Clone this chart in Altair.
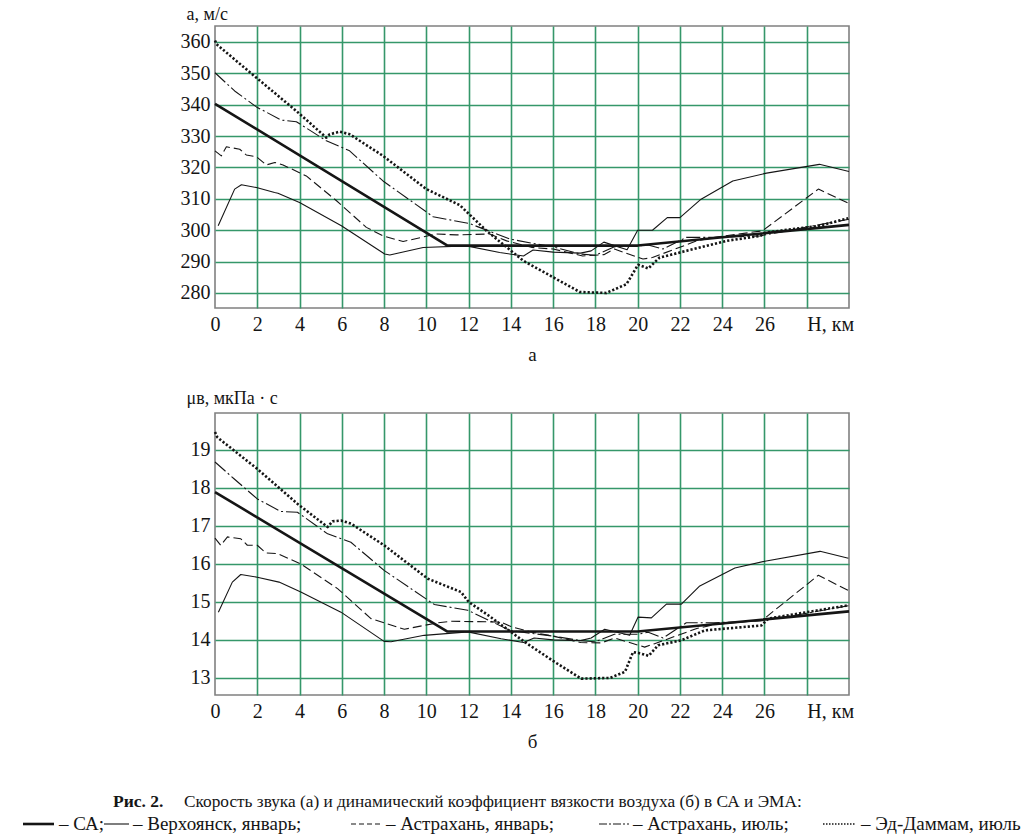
import altair as alt
import pandas as pd

# ---------------- data ----------------
# a) speed of sound, m/s
H_SA = [0, 11, 20, 30]
A_SA = [340.3, 295.1, 295.1, 301.7]
MU_SA = [17.89, 14.22, 14.22, 14.75]

H_VERKH_A = [0.15, 0.93, 1.25, 1.96, 2.82, 2.98, 4.0, 5.98, 8.03, 8.27, 9.85, 11.9, 13.47,
             14.6, 15.05, 16.0, 17.3, 17.8, 18.4, 19.5, 20.0, 20.7, 21.4, 22.0, 23.0, 24.5,
             26.1, 28.6, 30.0]
A_VERKH = [301.4, 313.1, 314.5, 313.6, 312.0, 311.8, 308.8, 301.4, 292.4, 292.1, 294.5, 295.0,
           292.9, 291.8, 293.7, 293.0, 292.7, 293.4, 296.2, 293.8, 300.0, 300.0, 304.0, 304.0,
           309.9, 315.7, 318.2, 321.0, 318.7]

H_ASTJ_A = [0, 0.3, 0.54, 1.17, 1.48, 1.96, 2.43, 2.83, 3.22, 4.32, 5.75, 7.16, 7.95, 8.9,
            10.48, 11.42, 13.0, 13.8, 15.0, 16.0, 17.4, 18.4, 18.9, 20.25, 20.7, 22.8, 23.6,
            25.9, 28.55, 30.0]
A_ASTJ = [325.3, 323.7, 326.6, 325.8, 324.0, 323.4, 320.8, 321.6, 320.8, 317.3, 309.4, 300.9,
          298.2, 296.4, 298.8, 298.5, 298.8, 296.6, 294.5, 294.0, 291.8, 292.2, 294.0, 290.8,
          291.3, 296.6, 297.7, 299.8, 313.1, 308.5]

H_ASTL_A = [0, 0.93, 1.96, 3.14, 3.85, 5.27, 6.37, 7.95, 10.32, 12.05, 13.95, 15.05, 16.0,
            17.3, 18.0, 18.9, 20.0, 20.5, 21.2, 22.3, 23.6, 25.8, 28.0, 30.0]
A_ASTL = [350.2, 344.4, 339.3, 335.1, 334.6, 328.5, 325.3, 315.7, 304.3, 302.1, 297.2, 295.8,
          294.7, 292.4, 292.0, 294.7, 295.0, 295.3, 294.0, 297.7, 297.7, 298.2, 301.0, 303.5]

H_DAMM_A = [0, 0.07, 1.96, 3.85, 5.27, 5.43, 5.9, 6.37, 7.95, 10.0, 11.58, 12.85, 14.58, 16.0,
            17.26, 18.52, 19.47, 20.02, 20.5, 21.04, 22.3, 24.2, 25.8, 26.1, 28.6, 29.96]
A_DAMM = [360.5, 359.3, 348.6, 338.0, 329.5, 330.6, 331.4, 330.6, 323.7, 313.1, 308.0, 299.8,
          290.3, 285.0, 280.3, 280.0, 282.8, 289.0, 287.8, 291.3, 293.4, 296.6, 298.2, 299.3,
          301.4, 303.8]

# б) dynamic viscosity, µPa·s
H_VERKH_M = [0.16, 0.82, 1.22, 2.0, 3.03, 4.06, 5.96, 8.0, 8.33, 9.9, 11.96, 13.54, 14.6, 15.1,
             16.0, 17.3, 17.8, 18.44, 19.62, 20.02, 20.65, 21.36, 22.07, 22.94, 24.6, 26.02,
             28.63, 29.97]
MU_VERKH = [14.73, 15.52, 15.72, 15.65, 15.52, 15.26, 14.73, 13.96, 13.95, 14.12, 14.21, 14.03,
            13.93, 14.05, 14.0, 13.98, 14.05, 14.28, 14.12, 14.6, 14.58, 14.94, 14.94, 15.42,
            15.89, 16.07, 16.33, 16.15]

H_ASTJ_M = [0, 0.27, 0.59, 1.22, 1.53, 2.0, 2.4, 2.96, 4.06, 5.8, 7.38, 8.0, 8.96, 10.54, 11.17,
            13.54, 14.0, 15.0, 16.0, 17.3, 18.28, 18.9, 20.33, 20.8, 22.8, 23.6, 25.9, 28.55,
            29.97]
MU_ASTJ = [16.68, 16.49, 16.71, 16.66, 16.49, 16.49, 16.29, 16.27, 16.0, 15.35, 14.56, 14.45,
           14.28, 14.45, 14.49, 14.47, 14.35, 14.2, 14.1, 13.93, 13.92, 14.05, 13.81, 13.9, 14.3,
           14.4, 14.52, 15.7, 15.3]

H_ASTL_M = [0, 0.9, 2.0, 3.11, 3.9, 5.33, 6.43, 8.0, 10.38, 11.96, 13.96, 15.12, 16.0, 17.3,
            18.0, 18.9, 20.0, 20.5, 21.2, 22.3, 23.6, 25.8, 28.0, 29.97]
MU_ASTL = [18.68, 18.24, 17.71, 17.38, 17.36, 16.79, 16.57, 15.83, 14.93, 14.78, 14.25, 14.16,
           14.1, 13.98, 13.95, 14.15, 14.15, 14.2, 14.05, 14.45, 14.45, 14.5, 14.7, 14.9]

H_DAMM_M = [0, 0.11, 2.0, 3.9, 5.33, 5.56, 5.96, 6.43, 8.0, 10.07, 11.64, 12.0, 13.0, 14.64,
            16.07, 17.33, 18.7, 19.4, 19.78, 20.02, 20.52, 20.97, 22.07, 23.18, 25.86, 26.18,
            29.97]
MU_DAMM = [19.47, 19.33, 18.5, 17.58, 16.97, 17.12, 17.14, 17.06, 16.49, 15.61, 15.26, 15.0,
           14.62, 13.95, 13.42, 12.98, 13.0, 13.16, 13.68, 13.66, 13.58, 13.86, 13.99, 14.25,
           14.38, 14.56, 14.91]

X_TICKS = list(range(0, 31, 2))
A_TICKS = list(range(280, 361, 10))
MU_TICKS = list(range(13, 20))

CAPTION_BOLD = ["Рис. 2."]
CAPTION_REST = ["Скорость звука (а) и динамический коэффициент вязкости воздуха (б) в СА и ЭМА:"]
LEGEND_LABELS = ["– СА;", "– Верхоянск, январь;", "– Астрахань, январь;",
                 "– Астрахань, июль;", "– Эд-Даммам, июль"]

# ---------------- styling ----------------
FONT = "'Liberation Serif', 'DejaVu Serif', serif"
INK = "#151515"
GREEN = "#35976a"
W, HGT = 634, 282

STYLES = [
    dict(strokeWidth=1.1, strokeDash=[9, 4]),            # Астрахань, январь
    dict(strokeWidth=1.1, strokeDash=[14, 3, 2, 3]),     # Астрахань, июль
    dict(strokeWidth=1.1),                               # Верхоянск
    dict(strokeWidth=2.6, strokeDash=[2.2, 2.0]),        # Эд-Даммам
    dict(strokeWidth=2.6),                               # СА
]


def axes(yvals, ytitle, ytitle_y, xtitle):
    xaxis = alt.Axis(
        values=X_TICKS,
        labelExpr="datum.value == 28 ? 'H, км' : (datum.value == 30 ? '' : datum.label)",
        labelAlign={"condition": {"test": "datum.value == 28", "value": "left"}, "value": "center"},
        grid=True, gridColor=GREEN, gridWidth=1.6,
        gridOpacity={"condition": {"test": "datum.value == 0 || datum.value == 30", "value": 0},
                     "value": 1},
        domain=False, ticks=False, tickSize=0, labelPadding=6,
        labelFont=FONT, labelFontSize=20, labelColor=INK,
        title=xtitle, titleFont=FONT, titleFontSize=19, titleFontWeight="normal",
        titleColor=INK, titlePadding=11,
    )
    yaxis = alt.Axis(
        values=yvals, grid=True, gridColor=GREEN, gridWidth=1.6,
        domain=False, ticks=False, tickSize=0, labelPadding=5,
        labelFont=FONT, labelFontSize=20, labelColor=INK,
        title=ytitle, titleFont=FONT, titleFontSize=18, titleFontWeight="normal",
        titleColor=INK, titleAngle=0, titleAlign="left", titleBaseline="alphabetic",
        titleX=-29, titleY=ytitle_y,
    )
    return xaxis, yaxis


def invisible(x, y):
    return alt.Chart(pd.DataFrame({"k": [0]})).mark_rule(strokeOpacity=0, strokeWidth=1).encode(
        x=alt.value(x), x2=alt.value(x + 1), y=alt.value(y))


def panel(series, ydom, yvals, ytitle, ytitle_y, xtitle):
    xs = alt.Scale(domain=[0, 30], nice=False, zero=False)
    ys = alt.Scale(domain=ydom, nice=False, zero=False)
    xaxis, yaxis = axes(yvals, ytitle, ytitle_y, xtitle)
    layers = []
    for (h, v), style in zip(series, STYLES):
        df = pd.DataFrame({"H": h, "v": v})
        layers.append(
            alt.Chart(df).mark_line(color=INK, strokeJoin="round", **style).encode(
                x=alt.X("H:Q", scale=xs, axis=xaxis),
                y=alt.Y("v:Q", scale=ys, axis=yaxis),
            )
        )
    return layers


top_layers = panel(
    [(H_ASTJ_A, A_ASTJ), (H_ASTL_A, A_ASTL), (H_VERKH_A, A_VERKH), (H_DAMM_A, A_DAMM), (H_SA, A_SA)],
    [275.2, 365.1], A_TICKS, "a, м/с", -7, "а",
)
top = alt.layer(*top_layers, invisible(-200, -24.5), invisible(-200, 342)).properties(
    width=W, height=HGT)

bot_layers = panel(
    [(H_ASTJ_M, MU_ASTJ), (H_ASTL_M, MU_ASTL), (H_VERKH_M, MU_VERKH), (H_DAMM_M, MU_DAMM),
     (H_SA, MU_SA)],
    [12.55, 19.97], MU_TICKS, "μв, мкПа · с", -10, "б",
)

# caption (positions relative to the lower plot's origin)
Y1, Y2 = 389, 411


def text(s, x, y, size=19, bold=False):
    return alt.Chart(pd.DataFrame({"t": [s]})).mark_text(
        font=FONT, fontSize=size, color=INK, align="left", baseline="middle",
        fontWeight="bold" if bold else "normal",
    ).encode(x=alt.value(x), y=alt.value(y), text="t:N")


def sample(x1, x2, y, **style):
    return alt.Chart(pd.DataFrame({"k": [0]})).mark_rule(color=INK, **style).encode(
        x=alt.value(x1), x2=alt.value(x2), y=alt.value(y))


cap = [
    text(CAPTION_BOLD[0], -102, Y1, size=17.5, bold=True),
    text(CAPTION_REST[0], -31, Y1, size=17.3),
    sample(-192, -161, Y2, strokeWidth=2.6),
    text(LEGEND_LABELS[0], -156, Y2),
    sample(-111, -86, Y2, strokeWidth=1.1),
    text(LEGEND_LABELS[1], -82, Y2),
    sample(136, 166, Y2, strokeWidth=1.1, strokeDash=[5, 3]),
    text(LEGEND_LABELS[2], 171, Y2),
    sample(384, 414, Y2, strokeWidth=1.1, strokeDash=[8, 2, 2, 2]),
    text(LEGEND_LABELS[3], 418, Y2),
    sample(608, 641, Y2, strokeWidth=1.5, strokeDash=[1.5, 1.5]),
    text(LEGEND_LABELS[4], 646, Y2),
]

bottom = alt.layer(*bot_layers, invisible(-200, -30), *cap).properties(width=W, height=HGT)

chart = alt.vconcat(top, bottom, spacing=13).properties(
    padding={"left": 14, "top": 0, "right": 4, "bottom": 2},
    background="white",
).configure_view(stroke="#808080", strokeWidth=1.6)

chart.save("out.html", embed_options={"renderer": "svg", "actions": False})
